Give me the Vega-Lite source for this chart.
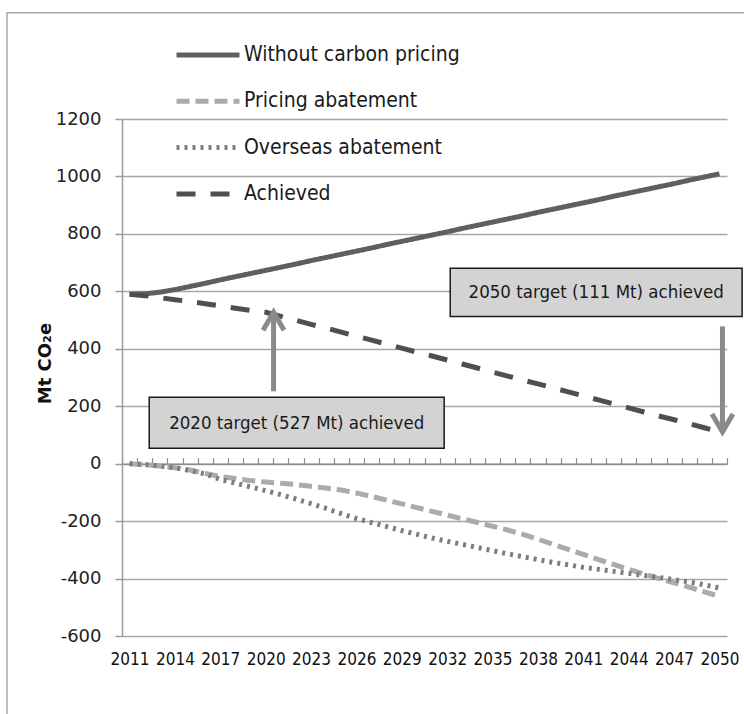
{
  "$schema": "https://vega.github.io/schema/vega-lite/v6.json",
  "autosize": "none",
  "width": 605,
  "height": 517,
  "padding": {"left": 122, "top": 119, "right": 17, "bottom": 78},
  "background": "white",
  "config": {"view": {"stroke": null}},
  "datasets": {
    "series": [
      {"year":2011,"series":"Without carbon pricing","value":590},{"year":2012,"series":"Without carbon pricing","value":591},{"year":2013,"series":"Without carbon pricing","value":597},{"year":2014,"series":"Without carbon pricing","value":606},{"year":2015,"series":"Without carbon pricing","value":617},{"year":2016,"series":"Without carbon pricing","value":628},{"year":2017,"series":"Without carbon pricing","value":640},{"year":2018,"series":"Without carbon pricing","value":651},{"year":2019,"series":"Without carbon pricing","value":662},{"year":2020,"series":"Without carbon pricing","value":673},{"year":2021,"series":"Without carbon pricing","value":684},{"year":2022,"series":"Without carbon pricing","value":695},{"year":2023,"series":"Without carbon pricing","value":707},{"year":2024,"series":"Without carbon pricing","value":718},{"year":2025,"series":"Without carbon pricing","value":729},{"year":2026,"series":"Without carbon pricing","value":740},{"year":2027,"series":"Without carbon pricing","value":751},{"year":2028,"series":"Without carbon pricing","value":763},{"year":2029,"series":"Without carbon pricing","value":774},{"year":2030,"series":"Without carbon pricing","value":785},{"year":2031,"series":"Without carbon pricing","value":796},{"year":2032,"series":"Without carbon pricing","value":807},{"year":2033,"series":"Without carbon pricing","value":819},{"year":2034,"series":"Without carbon pricing","value":830},{"year":2035,"series":"Without carbon pricing","value":841},{"year":2036,"series":"Without carbon pricing","value":852},{"year":2037,"series":"Without carbon pricing","value":863},{"year":2038,"series":"Without carbon pricing","value":875},{"year":2039,"series":"Without carbon pricing","value":886},{"year":2040,"series":"Without carbon pricing","value":897},{"year":2041,"series":"Without carbon pricing","value":908},{"year":2042,"series":"Without carbon pricing","value":919},{"year":2043,"series":"Without carbon pricing","value":931},{"year":2044,"series":"Without carbon pricing","value":942},{"year":2045,"series":"Without carbon pricing","value":953},{"year":2046,"series":"Without carbon pricing","value":964},{"year":2047,"series":"Without carbon pricing","value":975},{"year":2048,"series":"Without carbon pricing","value":987},{"year":2049,"series":"Without carbon pricing","value":998},{"year":2050,"series":"Without carbon pricing","value":1009},
      {"year":2011,"series":"Pricing abatement","value":0},{"year":2012,"series":"Pricing abatement","value":-3},{"year":2013,"series":"Pricing abatement","value":-8},{"year":2014,"series":"Pricing abatement","value":-14},{"year":2015,"series":"Pricing abatement","value":-22},{"year":2016,"series":"Pricing abatement","value":-34},{"year":2017,"series":"Pricing abatement","value":-45},{"year":2018,"series":"Pricing abatement","value":-52},{"year":2019,"series":"Pricing abatement","value":-59},{"year":2020,"series":"Pricing abatement","value":-64},{"year":2021,"series":"Pricing abatement","value":-68},{"year":2022,"series":"Pricing abatement","value":-73},{"year":2023,"series":"Pricing abatement","value":-79},{"year":2024,"series":"Pricing abatement","value":-85},{"year":2025,"series":"Pricing abatement","value":-92},{"year":2026,"series":"Pricing abatement","value":-102},{"year":2027,"series":"Pricing abatement","value":-114},{"year":2028,"series":"Pricing abatement","value":-127},{"year":2029,"series":"Pricing abatement","value":-140},{"year":2030,"series":"Pricing abatement","value":-153},{"year":2031,"series":"Pricing abatement","value":-166},{"year":2032,"series":"Pricing abatement","value":-179},{"year":2033,"series":"Pricing abatement","value":-192},{"year":2034,"series":"Pricing abatement","value":-205},{"year":2035,"series":"Pricing abatement","value":-218},{"year":2036,"series":"Pricing abatement","value":-231},{"year":2037,"series":"Pricing abatement","value":-246},{"year":2038,"series":"Pricing abatement","value":-263},{"year":2039,"series":"Pricing abatement","value":-281},{"year":2040,"series":"Pricing abatement","value":-298},{"year":2041,"series":"Pricing abatement","value":-316},{"year":2042,"series":"Pricing abatement","value":-334},{"year":2043,"series":"Pricing abatement","value":-351},{"year":2044,"series":"Pricing abatement","value":-368},{"year":2045,"series":"Pricing abatement","value":-384},{"year":2046,"series":"Pricing abatement","value":-400},{"year":2047,"series":"Pricing abatement","value":-415},{"year":2048,"series":"Pricing abatement","value":-430},{"year":2049,"series":"Pricing abatement","value":-446},{"year":2050,"series":"Pricing abatement","value":-462},
      {"year":2011,"series":"Overseas abatement","value":0},{"year":2012,"series":"Overseas abatement","value":-3},{"year":2013,"series":"Overseas abatement","value":-8},{"year":2014,"series":"Overseas abatement","value":-14},{"year":2015,"series":"Overseas abatement","value":-24},{"year":2016,"series":"Overseas abatement","value":-36},{"year":2017,"series":"Overseas abatement","value":-55},{"year":2018,"series":"Overseas abatement","value":-68},{"year":2019,"series":"Overseas abatement","value":-81},{"year":2020,"series":"Overseas abatement","value":-94},{"year":2021,"series":"Overseas abatement","value":-108},{"year":2022,"series":"Overseas abatement","value":-123},{"year":2023,"series":"Overseas abatement","value":-139},{"year":2024,"series":"Overseas abatement","value":-156},{"year":2025,"series":"Overseas abatement","value":-174},{"year":2026,"series":"Overseas abatement","value":-191},{"year":2027,"series":"Overseas abatement","value":-205},{"year":2028,"series":"Overseas abatement","value":-219},{"year":2029,"series":"Overseas abatement","value":-233},{"year":2030,"series":"Overseas abatement","value":-246},{"year":2031,"series":"Overseas abatement","value":-259},{"year":2032,"series":"Overseas abatement","value":-270},{"year":2033,"series":"Overseas abatement","value":-281},{"year":2034,"series":"Overseas abatement","value":-292},{"year":2035,"series":"Overseas abatement","value":-303},{"year":2036,"series":"Overseas abatement","value":-314},{"year":2037,"series":"Overseas abatement","value":-324},{"year":2038,"series":"Overseas abatement","value":-334},{"year":2039,"series":"Overseas abatement","value":-344},{"year":2040,"series":"Overseas abatement","value":-352},{"year":2041,"series":"Overseas abatement","value":-361},{"year":2042,"series":"Overseas abatement","value":-368},{"year":2043,"series":"Overseas abatement","value":-375},{"year":2044,"series":"Overseas abatement","value":-382},{"year":2045,"series":"Overseas abatement","value":-389},{"year":2046,"series":"Overseas abatement","value":-396},{"year":2047,"series":"Overseas abatement","value":-404},{"year":2048,"series":"Overseas abatement","value":-412},{"year":2049,"series":"Overseas abatement","value":-422},{"year":2050,"series":"Overseas abatement","value":-433},
      {"year":2011,"series":"Achieved","value":590},{"year":2012,"series":"Achieved","value":585},{"year":2013,"series":"Achieved","value":578},{"year":2014,"series":"Achieved","value":571},{"year":2015,"series":"Achieved","value":564},{"year":2016,"series":"Achieved","value":557},{"year":2017,"series":"Achieved","value":549},{"year":2018,"series":"Achieved","value":541},{"year":2019,"series":"Achieved","value":534},{"year":2020,"series":"Achieved","value":527},{"year":2021,"series":"Achieved","value":513},{"year":2022,"series":"Achieved","value":499},{"year":2023,"series":"Achieved","value":485},{"year":2024,"series":"Achieved","value":472},{"year":2025,"series":"Achieved","value":458},{"year":2026,"series":"Achieved","value":444},{"year":2027,"series":"Achieved","value":430},{"year":2028,"series":"Achieved","value":416},{"year":2029,"series":"Achieved","value":402},{"year":2030,"series":"Achieved","value":388},{"year":2031,"series":"Achieved","value":375},{"year":2032,"series":"Achieved","value":361},{"year":2033,"series":"Achieved","value":347},{"year":2034,"series":"Achieved","value":333},{"year":2035,"series":"Achieved","value":319},{"year":2036,"series":"Achieved","value":305},{"year":2037,"series":"Achieved","value":291},{"year":2038,"series":"Achieved","value":278},{"year":2039,"series":"Achieved","value":264},{"year":2040,"series":"Achieved","value":250},{"year":2041,"series":"Achieved","value":236},{"year":2042,"series":"Achieved","value":222},{"year":2043,"series":"Achieved","value":208},{"year":2044,"series":"Achieved","value":194},{"year":2045,"series":"Achieved","value":180},{"year":2046,"series":"Achieved","value":166},{"year":2047,"series":"Achieved","value":153},{"year":2048,"series":"Achieved","value":139},{"year":2049,"series":"Achieved","value":125},{"year":2050,"series":"Achieved","value":111}
    ],
    "boxes": [
      {"label": "2020 target (527 Mt) achieved", "x1": 2012.3, "x2": 2031.8, "y1": 54, "y2": 231, "tx": 2022.05, "ty": 142.5},
      {"label": "2050 target (111 Mt) achieved", "x1": 2032.2, "x2": 2051.5, "y1": 512, "y2": 680, "tx": 2041.85, "ty": 596}
    ],
    "arrows": [
      {"dir": "up", "x": 2020.52, "from": 252, "to": 527},
      {"dir": "down", "x": 2050.2, "from": 478, "to": 111}
    ],
    "frame": [
      {"x1": 2002.9, "x2": 2052.5, "y1": -900, "y2": 1570}
    ]
  },
  "resolve": {"axis": {"x": "independent", "y": "independent"}},
  "layer": [
    {
      "data": {"name": "series"},
      "mark": {"type": "line", "strokeCap": "butt"},
      "encoding": {
        "x": {"field": "year", "type": "quantitative",
          "scale": {"domain": [2010.5, 2050.5], "nice": false, "zero": false},
          "axis": {"orient": "bottom", "values": [2011,2014,2017,2020,2023,2026,2029,2032,2035,2038,2041,2044,2047,2050], "format": "d", "ticks": false, "domain": false, "grid": false, "title": null, "labelFont": "Liberation Sans Narrow, DejaVu Sans Condensed, sans-serif", "labelFontSize": 17, "labelColor": "#111111", "labelPadding": 15, "labelOverlap": false}},
        "y": {"field": "value", "type": "quantitative",
          "scale": {"domain": [-600, 1200], "nice": false, "zero": false},
          "axis": {"orient": "left", "values": [-600,-400,-200,0,200,400,600,800,1000,1200], "labelExpr": "datum.value + ''", "title": "Mt CO₂e", "titleFont": "DejaVu Sans", "titleFontWeight": "bold", "titleFontSize": 18, "titleColor": "#111111", "titleAngle": -90, "titleX": -77, "titleY": 244, "titleAlign": "center", "titleBaseline": "middle", "labelFont": "DejaVu Sans", "labelFontSize": 18, "labelColor": "#222222", "labelPadding": 14, "tickSize": 7, "tickColor": "#9a9a9a", "tickWidth": 1.5, "domainColor": "#9a9a9a", "domainWidth": 1.5, "grid": true, "gridColor": "#a6a6a6", "gridWidth": 1.4}},
        "color": {"field": "series", "type": "nominal",
          "scale": {"domain": ["Without carbon pricing", "Pricing abatement", "Overseas abatement", "Achieved"], "range": ["#5f5f5f", "#ababab", "#7d7d7d", "#4f4f4f"]},
          "legend": {"title": null, "orient": "none", "legendX": 52, "legendY": -77, "padding": 0, "symbolType": "stroke", "symbolSize": 3969, "clipHeight": 26, "rowPadding": 20.3, "labelOffset": 2, "symbolOffset": 0, "labelFont": "Liberation Sans Narrow, DejaVu Sans Condensed, sans-serif", "labelFontSize": 21, "labelColor": "#1a1a1a", "labelLimit": 400}},
        "strokeDash": {"field": "series", "type": "nominal",
          "scale": {"domain": ["Without carbon pricing", "Pricing abatement", "Overseas abatement", "Achieved"], "range": [[1, 0], [13, 6], [3, 5], [19, 15]]}},
        "strokeWidth": {"field": "series", "type": "nominal",
          "scale": {"domain": ["Without carbon pricing", "Pricing abatement", "Overseas abatement", "Achieved"], "range": [5, 5, 3, 5.5]}}
      }
    },
    {
      "data": {"name": "frame"},
      "mark": {"type": "rect", "fillOpacity": 0, "stroke": "#a8a8a8", "strokeWidth": 1.5},
      "encoding": {
        "x": {"field": "x1", "type": "quantitative", "axis": null},
        "x2": {"field": "x2"},
        "y": {"field": "y1", "type": "quantitative", "axis": null},
        "y2": {"field": "y2"}
      }
    },
    {
      "data": {"name": "arrows"},
      "mark": {"type": "rule", "stroke": "#8a8a8a", "strokeWidth": 5},
      "encoding": {
        "x": {"field": "x", "type": "quantitative", "axis": null},
        "y": {"field": "from", "type": "quantitative", "axis": null},
        "y2": {"field": "to"}
      }
    },
    {
      "data": {"name": "arrows"},
      "mark": {"type": "point", "filled": false, "stroke": "#8a8a8a", "strokeWidth": 5, "size": 441, "opacity": 1, "strokeJoin": "miter"},
      "encoding": {
        "x": {"field": "x", "type": "quantitative", "axis": null},
        "y": {"field": "to", "type": "quantitative", "axis": null},
        "shape": {"field": "dir", "type": "nominal", "legend": null,
          "scale": {"domain": ["up", "down"], "range": ["M-1,1.7L0,0L1,1.7", "M-1,-1.7L0,0L1,-1.7"]}}
      }
    },
    {
      "data": {"name": "boxes"},
      "mark": {"type": "rect", "fill": "#d3d3d3", "stroke": "#1a1a1a", "strokeWidth": 1.5},
      "encoding": {
        "x": {"field": "x1", "type": "quantitative",
          "axis": {"orient": "top", "offset": -344.7, "values": [2010.5,2011.5,2012.5,2013.5,2014.5,2015.5,2016.5,2017.5,2018.5,2019.5,2020.5,2021.5,2022.5,2023.5,2024.5,2025.5,2026.5,2027.5,2028.5,2029.5,2030.5,2031.5,2032.5,2033.5,2034.5,2035.5,2036.5,2037.5,2038.5,2039.5,2040.5,2041.5,2042.5,2043.5,2044.5,2045.5,2046.5,2047.5,2048.5,2049.5,2050.5], "labels": false, "ticks": true, "tickSize": 6, "tickColor": "#8c8c8c", "tickWidth": 1.2, "domain": true, "domainColor": "#8c8c8c", "domainWidth": 1.5, "grid": false, "title": null}},
        "x2": {"field": "x2"},
        "y": {"field": "y1", "type": "quantitative", "axis": null},
        "y2": {"field": "y2"}
      }
    },
    {
      "data": {"name": "boxes"},
      "mark": {"type": "text", "font": "Liberation Sans Narrow, DejaVu Sans Condensed, sans-serif", "fontSize": 18.5, "color": "#1a1a1a", "align": "center", "baseline": "middle"},
      "encoding": {
        "x": {"field": "tx", "type": "quantitative", "axis": null},
        "y": {"field": "ty", "type": "quantitative", "axis": null},
        "text": {"field": "label"}
      }
    }
  ]
}
